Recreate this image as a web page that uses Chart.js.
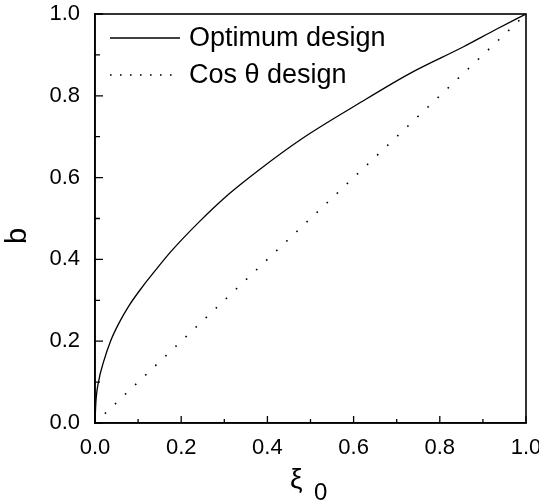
<!DOCTYPE html>
<html><head><meta charset="utf-8">
<script src="https://cdn.jsdelivr.net/npm/chart.js@4"></script>
<style>html,body{margin:0;padding:0;background:#fff}#wrap{width:539px;height:502px}</style>
</head><body><div id="wrap"><canvas id="c" width="539" height="502"></canvas></div>
<script>
// Optimum design curve
const xiValues   = [0, 0.002, 0.008, 0.02, 0.036, 0.055, 0.079, 0.11, 0.14, 0.176, 0.24, 0.312, 0.382, 0.48, 0.607, 0.731, 0.855, 0.93, 1.0];
const optimumB   = [0, 0.05, 0.10, 0.15, 0.20, 0.243, 0.287, 0.333, 0.373, 0.419, 0.49, 0.561, 0.62, 0.695, 0.778, 0.855, 0.920, 0.962, 1.0];
// Cos theta design (straight diagonal)
const cosXi      = [0, 1];
const cosB       = [0, 1];
const seriesLabels = ['Optimum design', 'Cos \u03B8 design'];
const tickValues = [0, 0.2, 0.4, 0.6, 0.8, 1.0];
const minorTickValues = [0.1, 0.3, 0.5, 0.7, 0.9];
const xTitleMain = '\u03BE';
const xTitleSub = '0';
const yTitle = 'b';

const FONT = '"Liberation Sans", Arial, Helvetica, sans-serif';

const decorPlugin = {
  id: 'decor',
  afterDatasetsDraw(chart) {
    const ctx = chart.ctx;
    const a = chart.chartArea;
    const xs = chart.scales.x, ys = chart.scales.y;
    ctx.save();
    ctx.strokeStyle = '#000';
    ctx.lineWidth = 1.6;
    ctx.strokeRect(a.left, a.top, a.right - a.left, a.bottom - a.top);
    // inward ticks
    ctx.lineWidth = 1.3;
    ctx.beginPath();
    tickValues.forEach(v => {
      const px = xs.getPixelForValue(v);
      ctx.moveTo(px, a.bottom); ctx.lineTo(px, a.bottom - 7);
      const py = ys.getPixelForValue(v);
      ctx.moveTo(a.left, py); ctx.lineTo(a.left + 8, py);
    });
    minorTickValues.forEach(v => {
      const px = xs.getPixelForValue(v);
      ctx.moveTo(px, a.bottom); ctx.lineTo(px, a.bottom - 4);
      const py = ys.getPixelForValue(v);
      ctx.moveTo(a.left, py); ctx.lineTo(a.left + 5, py);
    });
    ctx.stroke();

    // legend
    const rows = [38, 75];
    chart.data.datasets.forEach((ds, i) => {
      const y = rows[i];
      ctx.save();
      ctx.strokeStyle = ds.borderColor;
      ctx.lineWidth = ds.borderWidth;
      ctx.setLineDash(i === 1 ? [1.6, 8.4] : []);
      ctx.beginPath();
      ctx.moveTo(110, y); ctx.lineTo(180, y);
      ctx.stroke();
      ctx.restore();
      ctx.fillStyle = '#000';
      ctx.font = '27px ' + FONT;
      ctx.textBaseline = 'middle';
      ctx.textAlign = 'left';
      ctx.fillText(ds.label, 189, y + 1);
    });

    // axis titles
    ctx.fillStyle = '#000';
    ctx.save();
    ctx.translate(18, 236);
    ctx.rotate(-Math.PI / 2);
    ctx.font = '29px ' + FONT;
    ctx.textAlign = 'center';
    ctx.textBaseline = 'middle';
    ctx.fillText(yTitle, 0, 0);
    ctx.restore();

    ctx.font = '28px ' + FONT;
    ctx.textAlign = 'left';
    ctx.textBaseline = 'alphabetic';
    ctx.fillText(xTitleMain, 290, 488);
    ctx.font = '24px ' + FONT;
    ctx.fillText(xTitleSub, 314, 500);
    ctx.restore();
  }
};

Chart.defaults.font.family = FONT;
Chart.defaults.color = '#000';

new Chart(document.getElementById('c'), {
  type: 'scatter',
  data: {
    datasets: [
      {
        label: seriesLabels[0],
        data: xiValues.map((x, i) => ({x, y: optimumB[i]})),
        showLine: true,
        borderColor: '#000',
        borderWidth: 1.3,
        pointRadius: 0,
        cubicInterpolationMode: 'monotone',
        fill: false
      },
      {
        label: seriesLabels[1],
        data: cosXi.map((x, i) => ({x, y: cosB[i]})),
        showLine: true,
        borderColor: '#000',
        borderWidth: 1.6,
        borderDash: [1.6, 12.3],
        borderDashOffset: 0.3,
        pointRadius: 0,
        fill: false
      }
    ]
  },
  options: {
    responsive: false,
    animation: false,
    devicePixelRatio: 1,
    layout: { padding: { left: 0, right: 13, top: 14, bottom: 0 } },
    plugins: { legend: { display: false }, tooltip: { enabled: false } },
    scales: {
      x: {
        type: 'linear', min: 0, max: 1,
        grid: { display: false, drawTicks: false },
        border: { display: true, color: '#000', width: 1.6 },
        ticks: { padding: 12, font: { size: 22 }, color: '#000', callback: v => Number(v).toFixed(1) },
        afterBuildTicks: s => { s.ticks = tickValues.map(v => ({ value: v })); },
        afterFit: s => { s.height = 79; s.paddingLeft = 0; s.paddingRight = 0; }
      },
      y: {
        type: 'linear', min: 0, max: 1,
        grid: { display: false, drawTicks: false },
        border: { display: true, color: '#000', width: 1.6 },
        ticks: { padding: 15, font: { size: 22 }, color: '#000', callback: v => Number(v).toFixed(1) },
        afterBuildTicks: s => { s.ticks = tickValues.map(v => ({ value: v })); },
        afterFit: s => { s.width = 95; s.paddingTop = 0; s.paddingBottom = 0; }
      }
    }
  },
  plugins: [decorPlugin]
});
</script>
</body></html>
